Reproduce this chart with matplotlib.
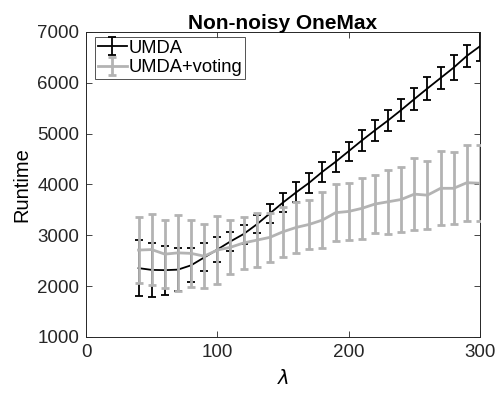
import matplotlib
matplotlib.use("Agg")
import matplotlib.pyplot as plt
import numpy as np

plt.rcParams['font.family'] = ['Liberation Sans', 'DejaVu Sans']
plt.rcParams['mathtext.fontset'] = 'dejavusans'

lam = list(range(40, 301, 10))

umda_mean = [2355, 2320, 2315, 2325, 2410, 2565, 2720, 2880, 3025, 3215,
             3430, 3645, 3845, 4035, 4250, 4445, 4655, 4865, 5065, 5260,
             5465, 5680, 5890, 6095, 6300, 6530, 6720]
umda_err = [550, 530, 480, 420, 335, 275, 245, 195, 187, 175,
            190, 195, 195, 200, 195, 200, 190, 200, 200, 200,
            210, 215, 220, 225, 240, 215, 300]

vote_mean = [2710, 2720, 2630, 2655, 2645, 2590, 2710, 2765, 2850, 2905,
             2960, 3070, 3155, 3215, 3300, 3445, 3470, 3530, 3615, 3660,
             3705, 3810, 3790, 3925, 3925, 4035, 4025]
vote_err = [650, 705, 665, 745, 655, 635, 665, 535, 515, 525,
            475, 490, 510, 480, 545, 560, 555, 605, 570, 630,
            640, 705, 670, 730, 710, 745, 745]

fig = plt.figure(figsize=(4.96, 3.94), dpi=100)
ax = fig.add_axes([0.1734, 0.1447, 0.7943, 0.7741])

grey = (0.7, 0.7, 0.7)
ax.errorbar(lam, umda_mean, yerr=umda_err, color='black', lw=1.3,
            elinewidth=1.3, capsize=3, capthick=1.3, label='UMDA', zorder=2)
ax.errorbar(lam, vote_mean, yerr=vote_err, color=grey, lw=2.0,
            elinewidth=2.0, capsize=3, capthick=2.0, label='UMDA+voting', zorder=3)

ax.set_xlim(0, 300)
ax.set_ylim(1000, 7000)
ax.set_xticks([0, 100, 200, 300])
ax.set_yticks([1000, 2000, 3000, 4000, 5000, 6000, 7000])
ax.tick_params(direction='in', top=True, right=True, labelsize=13.5,
               length=4, width=0.6, colors='#262626')
ax.tick_params(axis='y', pad=5)
ax.tick_params(axis='x', pad=5)
for s in ax.spines.values():
    s.set_linewidth(0.7)
    s.set_color('#262626')

ax.set_xlabel(r'$\lambda$', fontsize=14, labelpad=6)
ax.set_ylabel('Runtime', fontsize=14.5, labelpad=4)
ax.set_title('Non-noisy OneMax', fontsize=15, fontweight='bold', pad=2)

leg = ax.legend(loc='upper left', bbox_to_anchor=(0.023, 0.984),
                borderaxespad=0, fontsize=13.2, frameon=True, fancybox=False,
                edgecolor='#262626', borderpad=0.15, handlelength=1.6,
                handletextpad=0.1, labelspacing=0.15)
leg.get_frame().set_linewidth(0.7)

fig.savefig('out.png', dpi=100)
